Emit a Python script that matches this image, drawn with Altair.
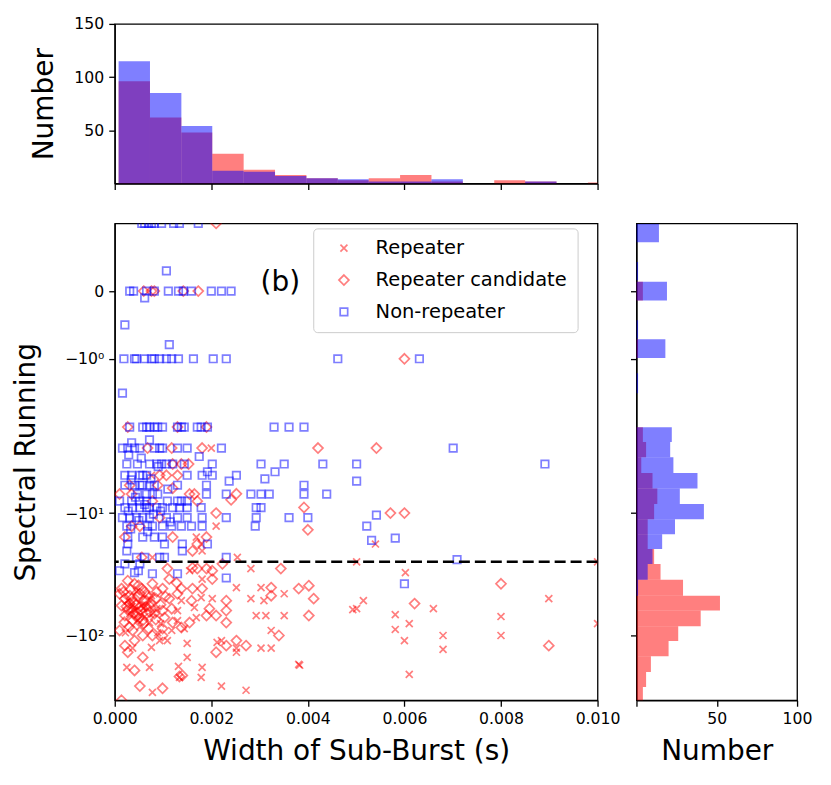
import altair as alt
import pandas as pd

CLASSES = ["Repeater", "Repeater candidate", "Non-repeater"]

# ---------------- scatter data: width of sub-burst (s), spectral running ----------------
# Non-repeaters, grouped by spectral-running value: (sr, [widths])
nonrep_rows = [
    (1.0, [0.00056, 0.00062, 0.0007, 0.00076, 0.00082, 0.00097, 0.00122, 0.00134, 0.00173]),
    (0.3, [0.00107]),
    (0.0, [0.00031, 0.00039, 0.00066, 0.00082, 0.00111, 0.00132, 0.00142, 0.00159, 0.002, 0.00221, 0.00241]),
    (-0.1, [0.00062]),
    (-0.5, [0.00021]),
    (-0.79, [0.00113]),
    (-1.0, [0.00019, 0.00041, 0.00045, 0.00062, 0.00076, 0.00082, 0.00093, 0.00107, 0.00118, 0.00132,
            0.00163, 0.00204, 0.00231, 0.00462, 0.00631]),
    (-1.67, [0.00016]),
    (-2.77, [0.00031, 0.00058, 0.00066, 0.00072, 0.00082, 0.00089, 0.00099, 0.0013, 0.00138, 0.00144,
             0.00171, 0.00179, 0.00192, 0.0033, 0.00361, 0.00392]),
    (-3.35, [0.00072]),
    (-3.5, [0.00035]),
    (-3.79, [0.00016, 0.00027, 0.00041, 0.00052, 0.00082, 0.00093, 0.00099, 0.0013, 0.0015, 0.00221, 0.00701]),
    (-4.2, [0.00029]),
    (-4.3, [0.00175]),
    (-4.4, [0.00055]),
    (-4.81, [0.00025, 0.00047, 0.00072, 0.00087, 0.00097, 0.00107, 0.0012, 0.00144, 0.00202, 0.00303,
             0.00351, 0.00431, 0.00501, 0.00891]),
    (-5.0, [0.0009]),
    (-5.4, [0.00192, 0.00332]),
    (-5.69, [0.00021, 0.00035, 0.00052, 0.00058, 0.00066, 0.0015, 0.00181, 0.00202, 0.00252]),
    (-6.0, [0.00311, 0.00075]),
    (-6.1, [0.00034]),
    (-6.2, [0.00237, 0.00501]),
    (-6.6, [0.00021, 0.00041, 0.00052, 0.00058, 0.00072, 0.00082, 0.0013, 0.0019, 0.00392]),
    (-7.0, [0.0011]),
    (-7.53, [0.00047, 0.00066, 0.00078, 0.00089, 0.0019, 0.00231, 0.00282, 0.00303, 0.0032, 0.00392, 0.00439]),
    (-7.9, [0.00043]),
    (-8.37, [0.0001, 0.00035, 0.00052, 0.00066, 0.00109, 0.0013, 0.00138, 0.0015]),
    (-8.8, [0.00062]),
    (-9.23, [0.00021, 0.00037, 0.00052, 0.00066, 0.00072, 0.00087, 0.00099, 0.0012, 0.00134, 0.0015,
             0.00179, 0.00293, 0.00303]),
    (-9.7, [0.00028, 0.00095]),
    (-10.2, [0.0008]),
    (-10.4, [0.00542]),
    (-10.9, [0.00016, 0.00031, 0.00045, 0.00058, 0.00072, 0.00107, 0.0013, 0.0015, 0.00181, 0.00231,
             0.00293, 0.00361, 0.004]),
    (-11.5, [0.0005]),
    (-11.8, [0.00115]),
    (-12.8, [0.00025, 0.00068, 0.00078, 0.00099, 0.00118, 0.00138, 0.00159, 0.00181, 0.00291, 0.00522]),
    (-13.5, [0.00033]),
    (-14.2, [0.00068]),
    (-15.7, [0.00027, 0.00058, 0.00082, 0.00099]),
    (-16.0, [0.00581]),
    (-16.7, [0.00532]),
    (-17.9, [0.00027, 0.00103, 0.0014, 0.00192]),
    (-20.4, [0.00025, 0.0014]),
    (-23.0, [0.00045, 0.00062, 0.00093, 0.00103, 0.00231]),
    (-24.0, [0.00709]),
    (-26.0, [0.00021, 0.00052]),
    (-29.6, [0.0001, 0.00049]),
    (-30.7, [0.00041]),
    (-31.3, [0.00078, 0.0013]),
    (-33.9, [0.00231]),
    (-37.8, [0.006]),
]

# Repeater candidates: (width, sr)
candidate_points = [
    (0.0021, 1.0),
    (0.0006, 0.0), (0.00076, 0.0), (0.00082, 0.0), (0.00142, 0.0), (0.00173, 0.0),
    (0.006, -1.0),
    (0.00027, -2.77), (0.0013, -2.77), (0.0019, -2.77),
    (0.00068, -3.79), (0.00118, -3.79), (0.00181, -3.79), (0.00421, -3.79), (0.00542, -3.79),
    (0.0012, -4.81), (0.00138, -4.81), (0.00153, -4.81),
    (0.00093, -5.69), (0.00107, -5.69), (0.0013, -5.69),
    (0.00031, -6.6), (0.00089, -6.6), (0.0012, -6.9),
    (0.0001, -7.53), (0.00035, -7.53), (0.00155, -7.53), (0.00165, -7.53), (0.00252, -7.5),
    (0.00241, -8.2), (0.00078, -8.37), (0.00171, -8.37),
    (0.00392, -9.2), (0.0021, -10.0), (0.00571, -10.0), (0.006, -10.0),
    (0.00093, -10.9), (0.00035, -12.8), (0.00052, -12.8), (0.004, -13.7),
    (0.00021, -15.7), (0.0012, -15.7), (0.0019, -15.7), (0.00171, -17.9),
    (0.00161, -20.4), (0.00056, -23.0),
    (0.00344, -28.4), (0.00202, -29.6), (0.0019, -28.4), (0.00171, -28.4), (0.00161, -28.0),
    (0.00223, -26.0), (0.00109, -28.4),
    (0.00324, -40.6), (0.00381, -41.4), (0.00402, -39.2), (0.00412, -50.0), (0.00324, -47.3),
    (0.00402, -68.7), (0.0034, -100.0), (0.00272, -121.0), (0.00252, -110.0), (0.00231, -121.0),
    (0.0021, -137.0), (0.0014, -212.0), (0.00134, -216.0), (0.00099, -270.0), (0.00052, -259.0),
    (0.00014, -338.0),
    (0.00041, -193.0), (0.00058, -151.0), (0.00027, -137.0), (0.00021, -121.0), (0.00041, -110.0),
    (0.00078, -100.0), (0.00099, -100.0), (0.0001, -91.0), (0.00037, -91.0), (0.00058, -100.0),
    (0.00099, -87.8), (0.00138, -86.1), (0.00155, -78.4), (0.0012, -78.4), (0.00103, -71.4),
    (0.0019, -68.7), (0.0021, -68.7), (0.00231, -78.4), (0.00231, -62.6), (0.00231, -51.9),
    (0.00196, -60.4), (0.00159, -51.9), (0.00118, -60.4), (0.00099, -62.6), (0.00113, -50.0),
    (0.0013, -45.6), (0.00138, -41.4), (0.00161, -41.4), (0.00181, -41.4), (0.00202, -34.6),
    (0.00128, -37.1), (0.00113, -34.6), (0.00099, -41.4), (0.00078, -37.8), (0.00056, -41.4),
    (0.00041, -37.8), (0.00027, -35.7), (0.00014, -41.4), (0.0001, -45.6), (0.00021, -50.0),
    (0.00014, -57.0), (0.00031, -47.3), (0.00041, -53.9), (0.00052, -45.6), (0.00062, -51.9),
    (0.00072, -57.0), (0.00035, -60.4), (0.00047, -65.0), (0.00066, -66.3), (0.00082, -66.3),
    (0.00058, -75.5), (0.00037, -75.5), (0.00021, -68.7), (0.00087, -43.9),
    (0.00031, -55.0), (0.00047, -48.0), (0.00062, -44.0), (0.00052, -58.0), (0.00027, -62.0),
    (0.00066, -52.0), (0.00044, -70.0), (0.00072, -64.0),
    (0.00018, -44.0), (0.00024, -58.0), (0.00035, -50.0), (0.00045, -56.0), (0.00055, -62.0),
    (0.00065, -58.0), (0.00075, -54.0), (0.00085, -50.0), (0.0004, -66.0), (0.0005, -72.0),
    (0.0006, -80.0), (0.0003, -85.0), (0.0007, -88.0), (0.00085, -74.0), (0.0002, -78.0),
    (0.00095, -56.0), (0.00105, -48.0), (0.00033, -42.0), (0.00049, -39.0), (0.00068, -47.0),
    (0.008, -37.8), (0.00621, -54.9), (0.00899, -121.0),
]

# Repeaters: (width, sr)
repeater_points = [
    (0.00076, -5.69), (0.002, -3.79), (0.0021, -12.8), (0.00169, -15.7), (0.00179, -17.9),
    (0.00181, -20.4), (0.00078, -23.0), (0.00254, -23.0), (0.0054, -17.9), (0.00501, -25.0),
    (0.01, -25.0),
    (0.00282, -28.4), (0.00155, -29.6), (0.00252, -40.6), (0.00303, -40.6), (0.00351, -45.6),
    (0.00309, -51.9), (0.00282, -50.0), (0.00293, -68.7), (0.00313, -68.7), (0.00351, -68.7),
    (0.00324, -91.0), (0.00303, -127.0), (0.00324, -127.0), (0.00252, -127.0), (0.00252, -137.0),
    (0.00212, -114.0), (0.00221, -110.0), (0.00381, -172.0), (0.00383, -175.0), (0.00272, -280.0),
    (0.00221, -259.0), (0.0015, -116.0), (0.0015, -151.0), (0.00181, -182.0), (0.00179, -220.0),
    (0.00134, -220.0), (0.00078, -291.0), (0.00025, -182.0), (0.00072, -182.0), (0.00037, -127.0),
    (0.00076, -125.0), (0.00109, -110.0), (0.00093, -110.0), (0.00118, -91.0), (0.00144, -87.8),
    (0.00169, -71.4), (0.0013, -75.5), (0.00202, -50.0), (0.00179, -49.1), (0.00165, -59.1),
    (0.00138, -51.9), (0.0013, -62.6), (0.00181, -34.6), (0.00072, -78.4), (0.00087, -60.4),
    (0.00056, -57.0), (0.00031, -66.3), (0.00076, -47.3), (0.00045, -43.9), (0.00132, -179.0),
    (0.00041, -62.0), (0.00062, -70.0), (0.00027, -52.0), (0.00052, -85.0), (0.00089, -95.0),
    (0.00035, -58.0), (0.0006, -60.0), (0.0008, -66.0), (0.00048, -75.0), (0.00022, -95.0),
    (0.00095, -80.0),
    (0.00602, -30.7), (0.00515, -51.9), (0.00493, -61.5), (0.00501, -60.4), (0.00581, -67.5),
    (0.0061, -79.9), (0.00581, -89.3), (0.006, -110.0), (0.0066, -60.4), (0.0068, -100.0),
    (0.0068, -130.0), (0.008, -70.0), (0.008, -100.0), (0.00899, -50.0), (0.0061, -208.0),
    (0.01, -79.9),
]

THRESHOLD = -25.0

# ---------------- top histogram (width) ----------------
top_edges = [0.00008, 0.00073, 0.00138, 0.00202, 0.00267, 0.00332, 0.00397, 0.00462, 0.00526,
             0.00591, 0.00656, 0.00721, 0.00786, 0.0085, 0.00915, 0.0098, 0.01045]
top_red = [96, 62, 48, 28, 13, 8, 5, 3, 5, 8, 2, 0, 3, 2, 0, 1]
top_blue = [115, 85, 54, 12, 11, 7, 5, 4, 2, 2, 4, 0, 0, 2, 0, 0]

# ---------------- right histogram (spectral running) ----------------
rh_upper = [0.99, 0.43, 0.14, -0.43, -0.71, -1.24, -2.78, -3.46, -4.35, -5.5, -6.93, -8.73,
            -11.25, -14.9, -19.7, -26.1, -35.1, -47.3, -62.6, -84.1, -111, -148, -199, -263]
rh_lower = [0.72, 0.16, -0.14, -0.70, -0.99, -1.67, -3.46, -4.35, -5.5, -6.93, -8.73, -11.25,
            -14.9, -19.7, -26.1, -35.1, -47.3, -62.6, -84.1, -111, -148, -199, -263, -350]
rh_red = [0, 0, 4, 0, 1, 0, 4, 6, 3, 10, 13, 11, 7, 7, 11, 15, 29, 52, 40, 26, 20, 9, 6, 4]
rh_blue = [14, 1, 19, 1, 18, 1, 22, 21, 23, 38, 27, 42, 24, 16, 10, 7, 1, 0, 0, 0, 0, 0, 0, 0]

# ---------------- tables ----------------
rows = []
for w, s in repeater_points:
    rows.append({"width": w, "sr": s, "cls": CLASSES[0], "z": 0})
for w, s in candidate_points:
    rows.append({"width": w, "sr": s, "cls": CLASSES[1], "z": 1})
for s, ws in nonrep_rows:
    for w in ws:
        rows.append({"width": w, "sr": s, "cls": CLASSES[2], "z": 2})
scatter_df = pd.DataFrame(rows)

top_df = pd.DataFrame({"lo": top_edges[:-1], "hi": top_edges[1:], "red": top_red, "blue": top_blue})
rh_df = pd.DataFrame({"up": rh_upper, "low": rh_lower, "red": rh_red, "blue": rh_blue})


# axis transform of the spectral-running axis (linear in [-1, 1], logarithmic segments beyond)
def pos_expr(f):
    d = f"datum['{f}']"
    return (f"{d} >= -1 ? 68 * {d} : ({d} >= -10 ? -68 - 155 * log(-{d}) / LN10 : "
            f"-223 - 123 * (log(-{d}) / LN10 - 1))")


Y_TICKS = [0, -68, -223, -346]
Y_LABELS = ("datum.value == 0 ? '0' : (datum.value == -68 ? '\u221210\u2070' : "
            "(datum.value == -223 ? '\u221210\u00b9' : '\u221210\u00b2'))")
yscale = alt.Scale(domain=[-411.05, 68], nice=False, zero=False)
xscale = alt.Scale(domain=[0, 0.01], nice=False, zero=False)
X_TICKS = [0, 0.002, 0.004, 0.006, 0.008, 0.01]

RED = "#ff0000"
BLUE = "#0000ff"
XPATH = "M-0.7,-0.7L0.7,0.7M-0.7,0.7L0.7,-0.7"
DPATH = "M0,-1L1,0L0,1L-1,0Z"
SPATH = "M-0.75,-0.75L0.75,-0.75L0.75,0.75L-0.75,0.75Z"

legend = alt.Legend(
    title=None, orient="none", legendX=199, legendY=205, padding=10,
    labelFontSize=19.5, labelFont="DejaVu Sans", labelColor="black", labelLimit=400,
    symbolSize=100, symbolStrokeWidth=1.7, symbolOpacity=0.5,
    symbolOffset=11, labelOffset=22, rowPadding=11,
    strokeColor="#cccccc", fillColor="rgba(255,255,255,0.8)", cornerRadius=4,
)

main_x_axis = alt.Axis(values=X_TICKS, format=".3f", title="Width of Sub-Burst (s)", titlePadding=12)
main_y_axis = alt.Axis(values=Y_TICKS, labelExpr=Y_LABELS, title="Spectral Running",
                       minExtent=62, maxExtent=62, titlePadding=12)

points = alt.Chart(scatter_df).transform_calculate(
    pos=pos_expr("sr")
).mark_point(filled=False, strokeWidth=1.7, opacity=0.5, size=100, clip=True).encode(
    x=alt.X("width:Q", scale=xscale, axis=main_x_axis),
    y=alt.Y("pos:Q", scale=yscale, axis=main_y_axis),
    shape=alt.Shape("cls:N", scale=alt.Scale(domain=CLASSES, range=[XPATH, DPATH, SPATH]), legend=legend),
    color=alt.Color("cls:N", scale=alt.Scale(domain=CLASSES, range=[RED, RED, BLUE]), legend=legend),
    order=alt.Order("z:Q"),
)

rule = alt.Chart(pd.DataFrame({"sr": [THRESHOLD]})).transform_calculate(
    pos=pos_expr("sr")
).mark_rule(strokeDash=[11, 5], strokeWidth=2.5, color="black").encode(
    y=alt.Y("pos:Q", scale=yscale, axis=main_y_axis)
)

label = alt.Chart(pd.DataFrame({"width": [0.00343], "sr": [0.12], "txt": ["(b)"]})).transform_calculate(
    pos=pos_expr("sr")
).mark_text(fontSize=28, font="DejaVu Sans", color="black", align="center", baseline="middle").encode(
    x=alt.X("width:Q", scale=xscale, axis=main_x_axis),
    y=alt.Y("pos:Q", scale=yscale, axis=main_y_axis),
    text="txt:N",
)

main = alt.layer(points, rule, label).properties(width=484, height=478)

# top histogram
top_x = alt.X("lo:Q", scale=xscale, axis=alt.Axis(values=X_TICKS, labels=False, title=None))
top_y_axis = alt.Axis(values=[50, 100, 150], title="Number", minExtent=46, maxExtent=46, titlePadding=10)
top_red_bars = alt.Chart(top_df).mark_rect(color=RED, opacity=0.5, clip=True).encode(
    x=top_x, x2="hi:Q",
    y=alt.Y("red:Q", scale=alt.Scale(domain=[0, 150], nice=False), axis=top_y_axis),
    y2=alt.datum(0),
)
top_blue_bars = alt.Chart(top_df).mark_rect(color=BLUE, opacity=0.5, clip=True).encode(
    x=top_x, x2="hi:Q",
    y=alt.Y("blue:Q", scale=alt.Scale(domain=[0, 150], nice=False), axis=top_y_axis),
    y2=alt.datum(0),
)
top = alt.layer(top_red_bars, top_blue_bars).properties(width=484, height=160)

# right histogram
rh_y = alt.Y("ylo:Q", scale=yscale, axis=alt.Axis(values=Y_TICKS, labels=False, title=None))
rh_x_axis = alt.Axis(values=[0, 50, 100], labelExpr="datum.value == 0 ? '' : datum.label",
                     title="Number", titlePadding=12)
rh_base = alt.Chart(rh_df).transform_calculate(ylo=pos_expr("low"), yhi=pos_expr("up"))
rh_red_bars = rh_base.mark_rect(color=RED, opacity=0.5, clip=True).encode(
    y=rh_y, y2="yhi:Q",
    x=alt.X("red:Q", scale=alt.Scale(domain=[0, 100], nice=False), axis=rh_x_axis),
    x2=alt.datum(0),
)
rh_blue_bars = rh_base.mark_rect(color=BLUE, opacity=0.5, clip=True).encode(
    y=rh_y, y2="yhi:Q",
    x=alt.X("blue:Q", scale=alt.Scale(domain=[0, 100], nice=False), axis=rh_x_axis),
    x2=alt.datum(0),
)
right = alt.layer(rh_red_bars, rh_blue_bars).properties(width=161, height=478)

row = alt.hconcat(main, right, spacing=39, bounds="flush")
chart = alt.vconcat(top, row, spacing=40, bounds="flush").properties(
    padding={"left": 4, "top": 6, "right": 10, "bottom": 10}
).configure(
    font="DejaVu Sans", background="white"
).configure_view(
    stroke="black", strokeWidth=1.3
).configure_axis(
    domainColor="black", domainWidth=1.3, tickColor="black", tickWidth=1.3, tickSize=6,
    labelFontSize=15.7, labelPadding=5, labelColor="black", labelFont="DejaVu Sans",
    titleFontSize=28, titleFontWeight="normal", titleColor="black", titleFont="DejaVu Sans",
    grid=False, labelFlush=False, labelOverlap=False,
)

chart.save("out.html", embed_options={"renderer": "svg", "actions": False})
